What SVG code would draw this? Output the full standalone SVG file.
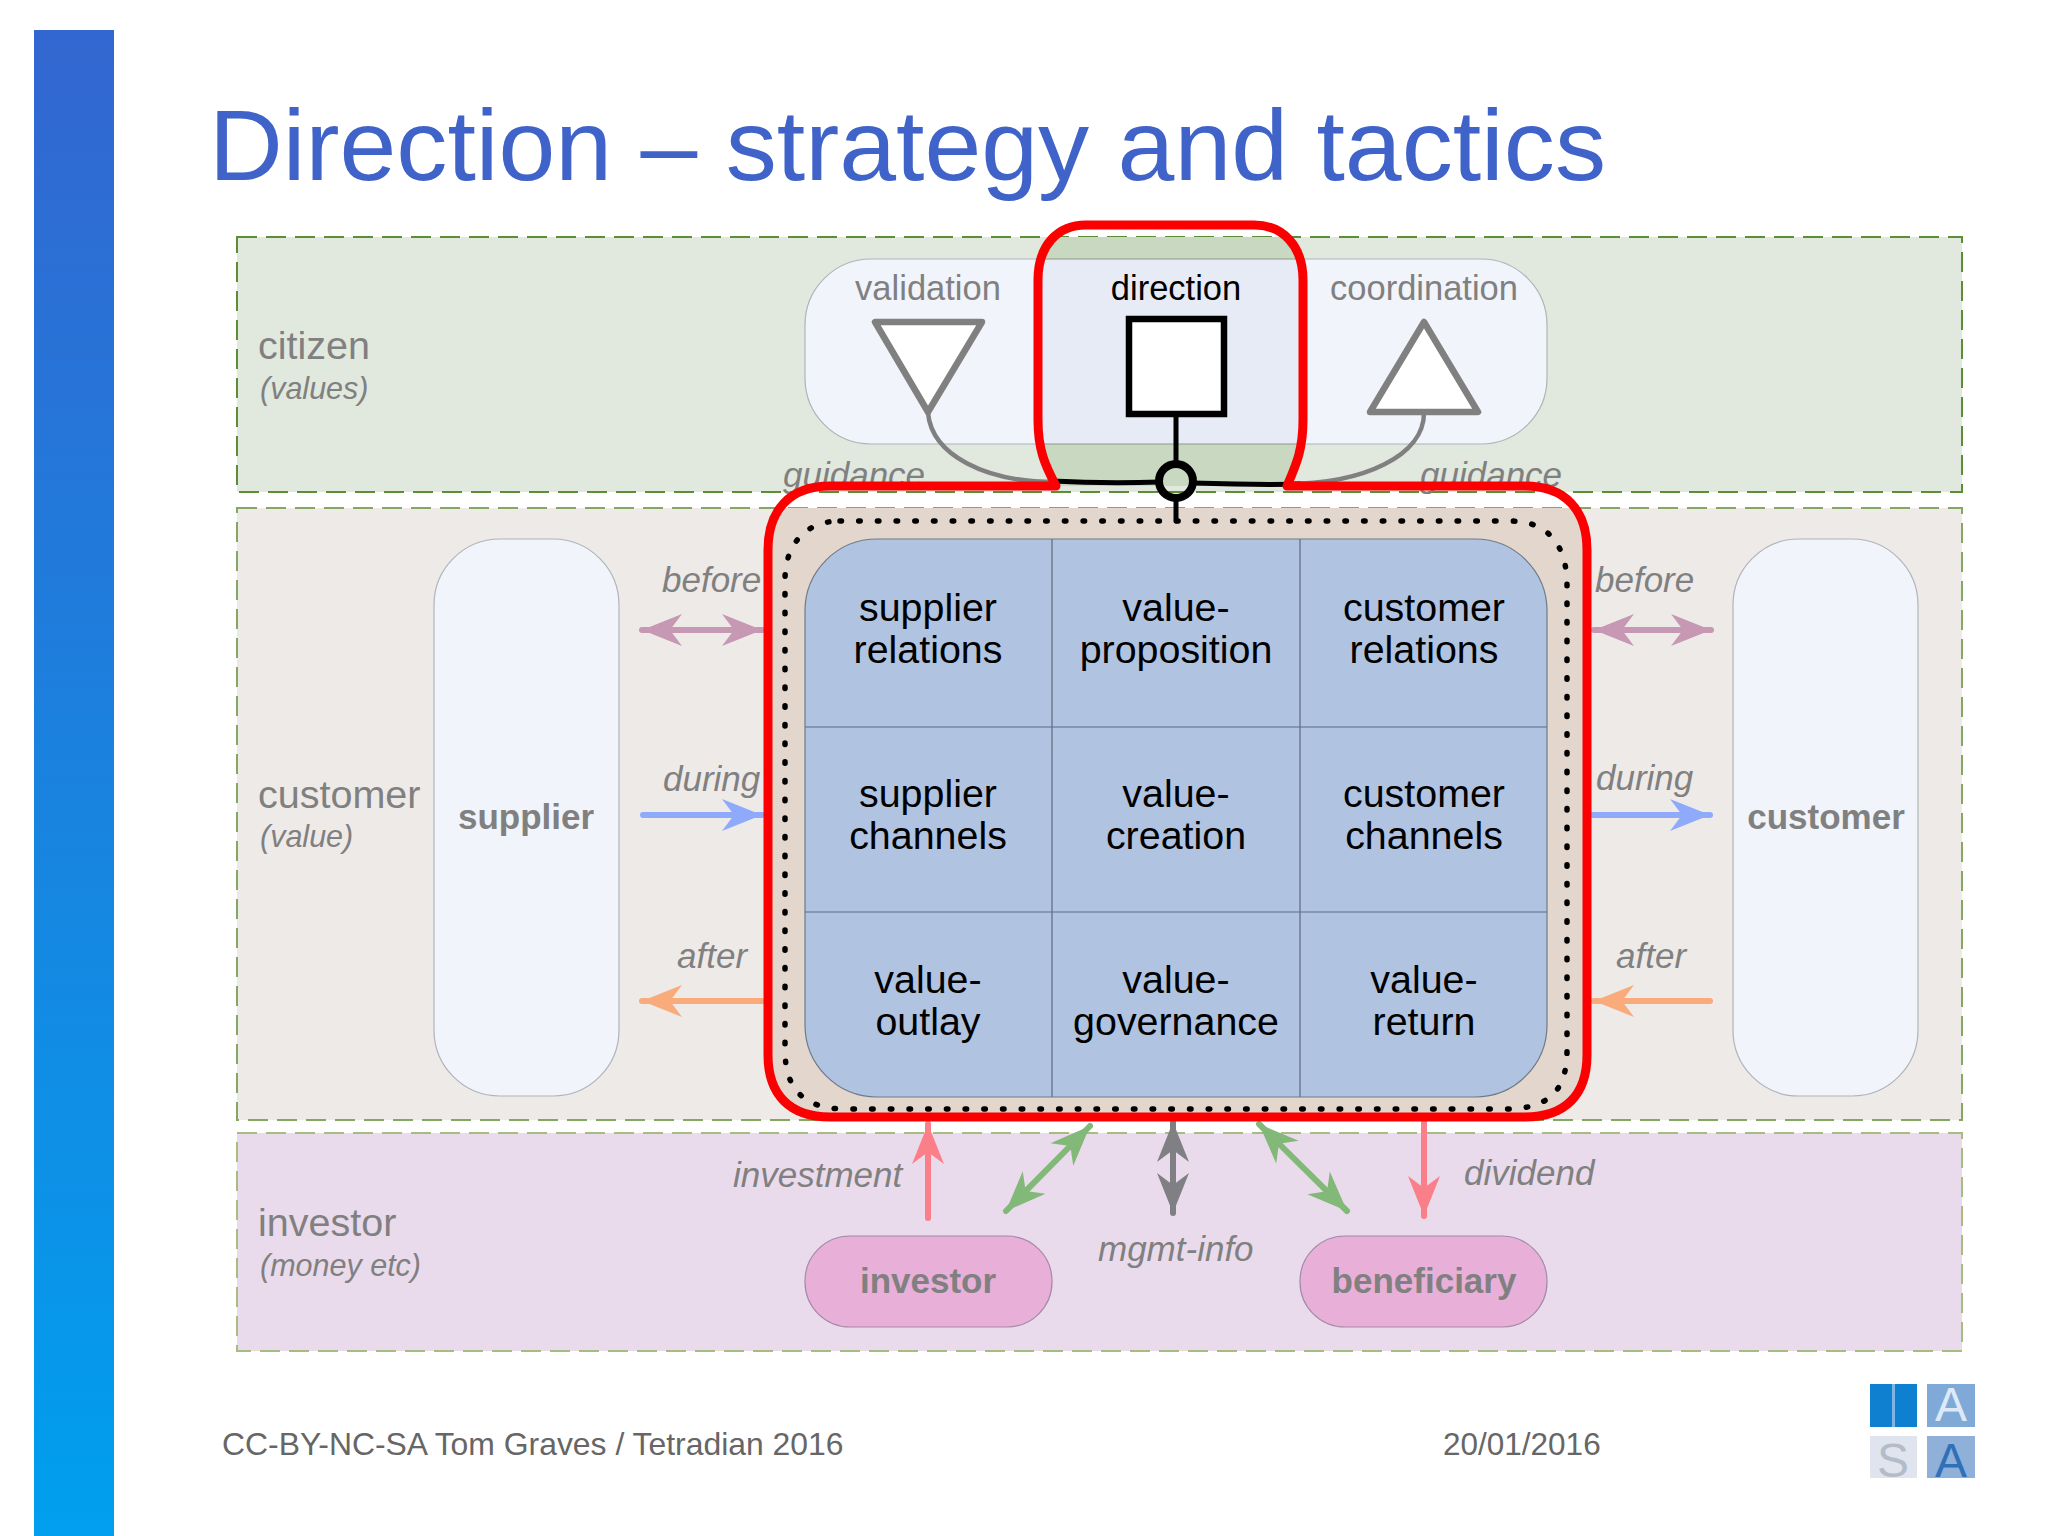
<svg xmlns="http://www.w3.org/2000/svg" width="2048" height="1536" viewBox="0 0 2048 1536">
<style>
text{font-family:"Liberation Sans",Arial,sans-serif}
.lbl{font-size:39.5px;fill:#808080}
.sub{font-size:30.5px;fill:#808080;font-style:italic}
.it{font-size:35px;fill:#808080;font-style:italic}
.cell{font-size:39.4px;fill:#000;text-anchor:middle}
.bold{font-size:35px;font-weight:bold;fill:#808080;text-anchor:middle}
.head{font-size:34.5px;text-anchor:middle}
.band{stroke-width:2;stroke-dasharray:20 9}
.pill{fill:#f1f4fb;stroke:#b0b4b8;stroke-width:1.2}
.money{fill:#e8afd8;stroke:#a58aa5;stroke-width:1.2}
.tri{fill:#fff;stroke:#808080;stroke-width:6.5;stroke-linejoin:round}
.ln{fill:none;stroke-linecap:round}
</style>
<defs>
<linearGradient id="bar" x1="0" y1="0" x2="0" y2="1"><stop offset="0" stop-color="#3366d0"/><stop offset="1" stop-color="#009fee"/></linearGradient>
<marker id="hMauve" viewBox="0 0 42 34" refX="40" refY="17" markerWidth="42" markerHeight="34" markerUnits="userSpaceOnUse" orient="auto-start-reverse"><path d="M0 1L40 17L0 33L12 17Z" fill="#c698b4"/></marker>
<marker id="hBlue" viewBox="0 0 42 34" refX="40" refY="17" markerWidth="42" markerHeight="34" markerUnits="userSpaceOnUse" orient="auto-start-reverse"><path d="M0 1L40 17L0 33L12 17Z" fill="#8faafb"/></marker>
<marker id="hOrange" viewBox="0 0 42 34" refX="40" refY="17" markerWidth="42" markerHeight="34" markerUnits="userSpaceOnUse" orient="auto-start-reverse"><path d="M0 1L40 17L0 33L12 17Z" fill="#f9ab7c"/></marker>
<marker id="hPink" viewBox="0 0 42 34" refX="40" refY="17" markerWidth="42" markerHeight="34" markerUnits="userSpaceOnUse" orient="auto-start-reverse"><path d="M0 1L40 17L0 33L12 17Z" fill="#fb7f88"/></marker>
<marker id="hGreen" viewBox="0 0 42 34" refX="40" refY="17" markerWidth="42" markerHeight="34" markerUnits="userSpaceOnUse" orient="auto-start-reverse"><path d="M0 1L40 17L0 33L12 17Z" fill="#82b878"/></marker>
<marker id="hGrey" viewBox="0 0 42 34" refX="40" refY="17" markerWidth="42" markerHeight="34" markerUnits="userSpaceOnUse" orient="auto-start-reverse"><path d="M0 1L40 17L0 33L12 17Z" fill="#7f7f84"/></marker>
<clipPath id="dirClip"><path d="M1056 486C1045 465 1038 450 1038 420V280C1038 245 1058 225 1086 225H1254C1282 225 1303 245 1303 280V420C1303 450 1296 465 1287 486Z"/></clipPath>
<clipPath id="gridClip"><rect x="805" y="539" width="742" height="558" rx="72"/></clipPath>
</defs>
<rect width="2048" height="1536" fill="#fff"/>
<rect x="34" y="30" width="80" height="1506" fill="url(#bar)"/>
<text x="209" y="180" font-size="101" fill="#3f63c8" textLength="1397" lengthAdjust="spacingAndGlyphs">Direction – strategy and tactics</text>

<g id="band-citizen"><rect class="band" x="237" y="237" width="1725" height="255" fill="#e1e8de" stroke="#5c8f35"/>
<text class="lbl" x="258" y="359">citizen</text><text class="sub" x="260" y="399">(values)</text></g>
<g id="band-customer"><rect class="band" x="237" y="508" width="1725" height="612" fill="#eeeae8" stroke="#84a862"/>
<text class="lbl" x="258" y="808">customer</text><text class="sub" x="260" y="847">(value)</text></g>
<g id="band-investor"><rect class="band" x="237" y="1133" width="1725" height="218" fill="#e9dbeb" stroke="#a5bd80"/>
<text class="lbl" x="258" y="1236">investor</text><text class="sub" x="260" y="1276">(money etc)</text></g>

<g id="guidance-labels"><text class="it" x="783" y="487">guidance</text><text class="it" x="1420" y="487">guidance</text></g>

<g id="identity-pill"><rect class="pill" x="805" y="259" width="742" height="185" rx="66"/></g>
<g id="direction-fill" clip-path="url(#dirClip)"><rect x="1030" y="237" width="280" height="255" fill="#c9d8c1"/><rect x="1030" y="259" width="280" height="185" fill="#e6ebf6"/><path d="M1030 259H1310M1030 444H1310" stroke="#8a9a88" stroke-width="1.2"/></g>

<g id="validation"><text class="head" x="928" y="300" fill="#808080">validation</text><path class="tri" d="M875 322H982L928 412Z"/></g>
<g id="direction"><text class="head" x="1176" y="300" fill="#000">direction</text><rect x="1129" y="319" width="95" height="95" fill="#fff" stroke="#000" stroke-width="6.5"/></g>
<g id="coordination"><text class="head" x="1424" y="300" fill="#808080">coordination</text><path class="tri" d="M1424 322L1478 412H1370Z"/></g>

<g id="tan-fill"><path d="M778 508H1577C1582 520 1587 530 1587 545V1060C1587 1095 1560 1117 1530 1117H825C795 1117 768 1095 768 1060V545C768 530 773 520 778 508Z" fill="#e3d6cc"/></g>

<g id="business-grid">
<rect x="805" y="539" width="742" height="558" rx="72" fill="#b0c4e2"/>
<path d="M1052 539V1097M1300 539V1097M805 727H1547M805 912H1547" stroke="#5d6a80" stroke-width="1.2" clip-path="url(#gridClip)"/>
<rect x="805" y="539" width="742" height="558" rx="72" fill="none" stroke="#6f7a88" stroke-width="1.2"/>
</g>
<g id="cell-supplier-relations"><text class="cell" x="928" y="621">supplier</text><text class="cell" x="928" y="663">relations</text></g>
<g id="cell-value-proposition"><text class="cell" x="1176" y="621">value-</text><text class="cell" x="1176" y="663">proposition</text></g>
<g id="cell-customer-relations"><text class="cell" x="1424" y="621">customer</text><text class="cell" x="1424" y="663">relations</text></g>
<g id="cell-supplier-channels"><text class="cell" x="928" y="807">supplier</text><text class="cell" x="928" y="849">channels</text></g>
<g id="cell-value-creation"><text class="cell" x="1176" y="807">value-</text><text class="cell" x="1176" y="849">creation</text></g>
<g id="cell-customer-channels"><text class="cell" x="1424" y="807">customer</text><text class="cell" x="1424" y="849">channels</text></g>
<g id="cell-value-outlay"><text class="cell" x="928" y="993">value-</text><text class="cell" x="928" y="1035">outlay</text></g>
<g id="cell-value-governance"><text class="cell" x="1176" y="993">value-</text><text class="cell" x="1176" y="1035">governance</text></g>
<g id="cell-value-return"><text class="cell" x="1424" y="993">value-</text><text class="cell" x="1424" y="1035">return</text></g>

<g id="supplier"><rect class="pill" x="434" y="539" width="185" height="557" rx="66"/><text class="bold" x="526" y="829">supplier</text></g>
<g id="customer"><rect class="pill" x="1733" y="539" width="185" height="557" rx="66"/><text class="bold" x="1826" y="829">customer</text></g>
<g id="investor"><rect class="money" x="805" y="1236" width="247" height="91" rx="45"/><text class="bold" x="928" y="1293">investor</text></g>
<g id="beneficiary"><rect class="money" x="1300" y="1236" width="247" height="91" rx="45"/><text class="bold" x="1424" y="1293">beneficiary</text></g>

<g id="connector-labels">
<text class="it" x="662" y="592">before</text><text class="it" x="663" y="791">during</text><text class="it" x="677" y="968">after</text>
<text class="it" x="1595" y="592">before</text><text class="it" x="1596" y="790">during</text><text class="it" x="1616" y="968">after</text>
<text class="it" x="733" y="1187">investment</text><text class="it" x="1464" y="1185">dividend</text><text class="it" x="1098" y="1261">mgmt-info</text>
</g>

<g id="connectors">
<path class="ln" d="M928 413C932 455 985 482 1055 482" stroke="#808080" stroke-width="4.5"/>
<path class="ln" d="M1424 413C1424 455 1365 484 1285 484" stroke="#808080" stroke-width="4.5"/>
<path class="ln" d="M1052 481C1090 483 1130 483 1160 482M1192 483C1225 484 1265 485 1300 484" stroke="#000" stroke-width="5"/>
<path class="ln" d="M1176 414V464M1176 498V521" stroke="#000" stroke-width="5"/>
<circle cx="1176" cy="481" r="17" fill="none" stroke="#000" stroke-width="8"/>

<path class="ln" d="M642 630H762" stroke="#c698b4" stroke-width="6" marker-start="url(#hMauve)" marker-end="url(#hMauve)"/>
<path class="ln" d="M643 815H762" stroke="#8faafb" stroke-width="6" marker-end="url(#hBlue)"/>
<path class="ln" d="M762 1001H642" stroke="#f9ab7c" stroke-width="6" marker-end="url(#hOrange)"/>
<path class="ln" d="M1594 630H1711" stroke="#c698b4" stroke-width="6" marker-start="url(#hMauve)" marker-end="url(#hMauve)"/>
<path class="ln" d="M1592 815H1710" stroke="#8faafb" stroke-width="6" marker-end="url(#hBlue)"/>
<path class="ln" d="M1710 1001H1594" stroke="#f9ab7c" stroke-width="6" marker-end="url(#hOrange)"/>

<path class="ln" d="M928 1218V1124" stroke="#fb7f88" stroke-width="6" marker-end="url(#hPink)"/>
<path class="ln" d="M1006 1211L1090 1126" stroke="#82b878" stroke-width="6" marker-start="url(#hGreen)" marker-end="url(#hGreen)"/>
<path class="ln" d="M1173 1122V1213" stroke="#7f7f84" stroke-width="6" marker-start="url(#hGrey)" marker-end="url(#hGrey)"/>
<path class="ln" d="M1259 1124L1347 1211" stroke="#82b878" stroke-width="6" marker-start="url(#hGreen)" marker-end="url(#hGreen)"/>
<path class="ln" d="M1424 1120V1216" stroke="#fb7f88" stroke-width="6" marker-end="url(#hPink)"/>

<path d="M840 521H1510C1548 521 1567 545 1567 585V1050C1567 1090 1550 1109 1505 1109H845C805 1109 785 1090 785 1050V580C785 545 805 521 840 521Z" fill="none" stroke="#000" stroke-width="5.5" stroke-linecap="round" stroke-dasharray="1.5 17.2"/>
<path d="M1056 486C1045 465 1038 450 1038 420V280C1038 245 1058 225 1086 225H1254C1282 225 1303 245 1303 280V420C1303 450 1296 465 1287 486H1525C1565 486 1587 510 1587 550V1055C1587 1095 1565 1117 1525 1117H830C790 1117 768 1095 768 1055V550C768 510 790 486 830 486Z" fill="none" stroke="#fb0000" stroke-width="9" stroke-linejoin="round"/>
</g>

<g id="footer"><text x="222" y="1455" font-size="31.9" fill="#666">CC-BY-NC-SA Tom Graves / Tetradian 2016</text><text x="1443" y="1455" font-size="31.5" fill="#666">20/01/2016</text></g>
<g id="logo">
<rect x="1870" y="1384" width="47" height="43" fill="#0f7fd0"/><rect x="1892" y="1384" width="3" height="43" fill="#7db5e2"/>
<rect x="1927" y="1384" width="48" height="43" fill="#7fa9d6"/>
<rect x="1870" y="1436" width="47" height="42" fill="#dfe4ef"/>
<rect x="1927" y="1436" width="48" height="42" fill="#8fb0d8"/>
<text x="1951" y="1421" font-size="48" fill="#dde9f7" text-anchor="middle">A</text>
<text x="1893" y="1477" font-size="48" fill="#b4bcc8" text-anchor="middle">S</text>
<text x="1951" y="1477" font-size="48" fill="#2f70b8" text-anchor="middle">A</text>
</g>
</svg>
